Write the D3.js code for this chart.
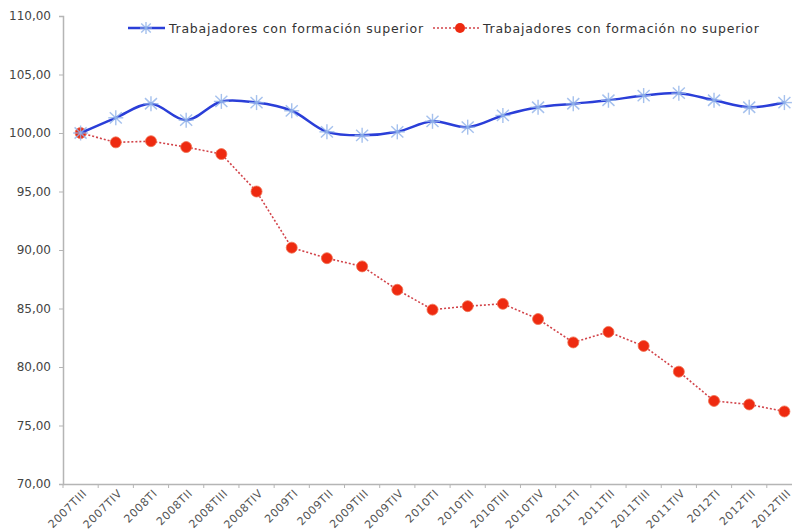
<!DOCTYPE html>
<html>
<head>
<meta charset="utf-8">
<script src="https://cdn.jsdelivr.net/npm/d3@7"></script>
<style>
  body { margin: 0; background: #fff; }
  svg { display: block; font-family: "DejaVu Sans", Verdana, sans-serif; }
</style>
</head>
<body>
<div id="chart"></div>
<script>
var quarters = ["2007TIII", "2007TIV", "2008TI", "2008TII", "2008TIII", "2008TIV",
  "2009TI", "2009TII", "2009TIII", "2009TIV", "2010TI", "2010TII", "2010TIII", "2010TIV",
  "2011TI", "2011TII", "2011TIII", "2011TIV", "2012TI", "2012TII", "2012TIII"];

var superior = [100.0, 101.3, 102.5, 101.1, 102.7, 102.6, 101.9, 100.1, 99.8, 100.1,
  101.0, 100.5, 101.5, 102.2, 102.5, 102.8, 103.2, 103.4, 102.8, 102.2, 102.6];

var noSuperior = [100.0, 99.2, 99.3, 98.8, 98.2, 95.0, 90.2, 89.3, 88.6, 86.6,
  84.9, 85.2, 85.4, 84.1, 82.1, 83.0, 81.8, 79.6, 77.1, 76.8, 76.2];

var yTicks = [70, 75, 80, 85, 90, 95, 100, 105, 110];

var seriesNames = ["Trabajadores con formación superior", "Trabajadores con formación no superior"];

var width = 792, height = 532;
var font = "DejaVu Sans, Verdana, sans-serif";
var svg = d3.select("#chart").append("svg")
  .attr("width", width)
  .attr("height", height);

var x = d3.scaleBand()
  .domain(quarters)
  .range([63, 802]);

var y = d3.scaleLinear()
  .domain([70, 110])
  .range([484, 16]);

var fmt = function(d) { return d3.format(".2f")(d).replace(".", ","); };

// y axis
var yAxis = svg.append("g")
  .attr("transform", "translate(63,0)")
  .call(d3.axisLeft(y).tickValues(yTicks).tickFormat(fmt).tickSize(4).tickPadding(8));
yAxis.attr("font-family", font).attr("font-size", 12);
yAxis.select(".domain").attr("stroke", "#b5b5b5").attr("stroke-width", 1.5);
yAxis.selectAll(".tick line").attr("stroke", "#b5b5b5");
yAxis.selectAll("text").attr("fill", "#444");

// x axis
var xAxis = svg.append("g")
  .attr("transform", "translate(0,484)")
  .call(d3.axisBottom(x).tickSize(0));
xAxis.attr("font-family", font).attr("font-size", 11);
xAxis.select(".domain").attr("stroke", "#b5b5b5").attr("stroke-width", 1.5);
xAxis.selectAll(".tick line").remove();
xAxis.selectAll("text")
  .attr("fill", "#555")
  .attr("letter-spacing", 0.6)
  .attr("text-anchor", "end")
  .attr("dy", null)
  .attr("y", 0)
  .attr("transform", "translate(7,10) rotate(-45)");

// boundary ticks on x axis
svg.append("g").selectAll("line")
  .data(quarters)
  .join("line")
  .attr("x1", function(d) { return x(d); })
  .attr("x2", function(d) { return x(d); })
  .attr("y1", 484)
  .attr("y2", 488)
  .attr("stroke", "#b5b5b5");

var cx = function(i) { return x(quarters[i]) + x.bandwidth() / 2; };

// red series
var redLine = d3.line()
  .x(function(d, i) { return cx(i); })
  .y(function(d) { return y(d); });

svg.append("path")
  .datum(noSuperior)
  .attr("fill", "none")
  .attr("stroke", "#d2444a")
  .attr("stroke-width", 1.6)
  .attr("stroke-dasharray", "2,2")
  .attr("d", redLine);

svg.append("g").selectAll("circle")
  .data(noSuperior)
  .join("circle")
  .attr("cx", function(d, i) { return cx(i); })
  .attr("cy", function(d) { return y(d); })
  .attr("r", 5.5)
  .attr("fill", "#ee2a10")
  .attr("stroke", "#f07050")
  .attr("stroke-width", 0.8);

// blue series
var blueLine = d3.line()
  .x(function(d, i) { return cx(i); })
  .y(function(d) { return y(d); })
  .curve(d3.curveCatmullRom.alpha(0.5));

svg.append("path")
  .datum(superior)
  .attr("fill", "none")
  .attr("stroke", "#2a3ed8")
  .attr("stroke-width", 2.5)
  .attr("d", blueLine);

function star(g, r) {
  [[-r, 0, r, 0], [-r * 0.8, -r * 0.75, r * 0.8, r * 0.75], [-r * 0.8, r * 0.75, r * 0.8, -r * 0.75], [0, -r, 0, r]]
    .forEach(function(s) {
      g.append("line")
        .attr("x1", s[0]).attr("y1", s[1]).attr("x2", s[2]).attr("y2", s[3])
        .attr("stroke", "#8fb2ea")
        .attr("stroke-width", 1.4)
        .attr("opacity", 0.8);
    });
}

svg.append("g").selectAll("g")
  .data(superior)
  .join("g")
  .attr("transform", function(d, i) { return "translate(" + cx(i) + "," + y(d) + ")"; })
  .each(function() { star(d3.select(this), 7.5); });

// legend
var legend = svg.append("g").attr("font-size", 12.5).attr("fill", "#333").attr("letter-spacing", 0.75);

legend.append("line")
  .attr("x1", 128).attr("x2", 165).attr("y1", 28).attr("y2", 28)
  .attr("stroke", "#2a3ed8").attr("stroke-width", 2.5);
star(legend.append("g").attr("transform", "translate(146,28)"), 6);
legend.append("text")
  .attr("x", 169).attr("y", 32.5)
  .text(seriesNames[0]);

legend.append("line")
  .attr("x1", 433).attr("x2", 479).attr("y1", 28).attr("y2", 28)
  .attr("stroke", "#d2444a").attr("stroke-width", 1.6).attr("stroke-dasharray", "2,2");
legend.append("circle")
  .attr("cx", 460).attr("cy", 28).attr("r", 5)
  .attr("fill", "#ee2a10");
legend.append("text")
  .attr("x", 483).attr("y", 32.5)
  .text(seriesNames[1]);
</script>
</body>
</html>
